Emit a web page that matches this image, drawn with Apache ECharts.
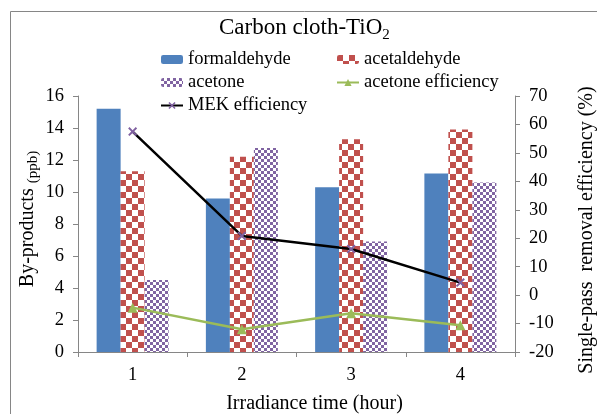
<!DOCTYPE html>
<html>
<head>
<meta charset="utf-8">
<script src="https://cdn.jsdelivr.net/npm/echarts@6/dist/echarts.min.js"></script>
<style>
html,body{margin:0;padding:0;background:#fff;}
#chart{width:597px;height:414px;}
</style>
</head>
<body>
<div id="chart"></div>
<script>
// ---- data ----
const categories = ['1', '2', '3', '4'];
const formaldehyde = [15.2, 9.6, 10.3, 11.15];
const acetaldehyde = [11.3, 12.2, 13.3, 13.9];
const acetone = [4.5, 12.75, 6.9, 10.6];
const acetoneEfficiency = [-4.4, -12.0, -6.4, -10.6];
const mekEfficiency = [57.5, 20.8, 16.2, 4.4];
const leftTicks = { min: 0, max: 16, interval: 2 };
const rightTicks = { min: -20, max: 70, interval: 10 };

// ---- patterns ----
function checker(size, fg, bg) {
  const cv = document.createElement('canvas');
  cv.width = cv.height = size * 2;
  const ctx = cv.getContext('2d');
  ctx.fillStyle = bg; ctx.fillRect(0, 0, size * 2, size * 2);
  ctx.fillStyle = fg;
  ctx.fillRect(0, 0, size, size);
  ctx.fillRect(size, size, size, size);
  return cv;
}
const redChecker = { image: checker(6, '#C0504D', '#FFFFFF'), repeat: 'repeat' };
const purpleChecker = { image: checker(3, '#8064A2', '#FFFFFF'), repeat: 'repeat' };

const FONT = 'Liberation Serif';
const AX = '#868686';
const xMark = 'path://M0,1.5L1.5,0L5,3.5L8.5,0L10,1.5L6.5,5L10,8.5L8.5,10L5,6.5L1.5,10L0,8.5L3.5,5Z';
const txt = (size) => ({ fontFamily: FONT, fontSize: size, fontWeight: 'normal', color: '#000' });

const chart = echarts.init(document.getElementById('chart'), null, { renderer: 'canvas' });
chart.setOption({
  animation: false,
  backgroundColor: '#fff',
  textStyle: { fontFamily: FONT, color: '#000' },
  graphic: [{
    type: 'rect', z: -10,
    shape: { x: 10.5, y: 11.5, width: 700, height: 500 },
    style: { fill: 'none', stroke: AX, lineWidth: 1 }
  }],
  title: {
    text: '{a|Carbon cloth-TiO}{b|2}',
    left: 219, top: 15, padding: 0,
    textStyle: {
      fontFamily: FONT, fontWeight: 'normal',
      rich: {
        a: Object.assign(txt(23), { verticalAlign: 'bottom', lineHeight: 24 }),
        b: Object.assign(txt(15), { verticalAlign: 'bottom', lineHeight: 24, padding: [0, 0, -4, 0] })
      }
    }
  },
  legend: [{
    orient: 'vertical', left: 160, top: 50, padding: 0,
    itemWidth: 22, itemHeight: 9, itemGap: 4,
    textStyle: txt(18.5),
    data: ['formaldehyde', 'acetone', 'MEK efficiency']
  }, {
    orient: 'vertical', left: 336, top: 50, padding: 0,
    itemWidth: 22, itemHeight: 9, itemGap: 4,
    textStyle: txt(18.5),
    data: ['acetaldehyde', 'acetone efficiency']
  }],
  grid: { left: 78, right: 82, top: 96, bottom: 62, containLabel: false, outerBoundsMode: 'none' },
  xAxis: {
    type: 'category', data: categories, boundaryGap: true,
    name: 'Irradiance time (hour)', nameLocation: 'middle', nameGap: 42,
    nameTextStyle: Object.assign(txt(20), { padding: [0, 0, 0, 36] }),
    axisLine: { lineStyle: { color: AX, width: 1 } },
    axisTick: { show: true, length: 5, alignWithLabel: false, lineStyle: { color: AX } },
    axisLabel: Object.assign(txt(18.5), { margin: 14 }),
    splitLine: { show: false }
  },
  yAxis: [{
    type: 'value', position: 'left',
    min: leftTicks.min, max: leftTicks.max, interval: leftTicks.interval,
    name: '{a|By-products }{b|(ppb)}', nameLocation: 'middle', nameRotate: 90, nameGap: 40,
    nameMoveOverlap: false,
    nameTextStyle: {
      fontFamily: FONT,
      padding: [0, 0, 0, 10],
      rich: {
        a: Object.assign(txt(20), { lineHeight: 22, verticalAlign: 'bottom' }),
        b: Object.assign(txt(15), { lineHeight: 22, verticalAlign: 'bottom', padding: [0, 0, -3, 0] })
      }
    },
    axisLine: { show: true, lineStyle: { color: AX, width: 1 } },
    axisTick: { show: true, length: 5, lineStyle: { color: AX } },
    axisLabel: Object.assign(txt(18.5), { margin: 14 }),
    splitLine: { show: false }
  }, {
    type: 'value', position: 'right',
    min: rightTicks.min, max: rightTicks.max, interval: rightTicks.interval,
    name: 'Single-pass  removal efficiency (%)', nameLocation: 'middle', nameRotate: 90, nameGap: 62,
    nameTextStyle: Object.assign(txt(20), { padding: [0, 12, 0, 0] }),
    axisLine: { show: true, lineStyle: { color: AX, width: 1 } },
    axisTick: { show: true, length: 5, lineStyle: { color: AX } },
    axisLabel: Object.assign(txt(18.5), { margin: 14 }),
    splitLine: { show: false }
  }],
  series: [{
    name: 'formaldehyde', type: 'bar', yAxisIndex: 0, data: formaldehyde,
    barWidth: 24, barGap: '0%',
    itemStyle: { color: '#4F81BD' }
  }, {
    name: 'acetaldehyde', type: 'bar', yAxisIndex: 0, data: acetaldehyde,
    barWidth: 24, barGap: '0%',
    itemStyle: { color: redChecker }
  }, {
    name: 'acetone', type: 'bar', yAxisIndex: 0, data: acetone,
    barWidth: 24, barGap: '0%',
    itemStyle: { color: purpleChecker }
  }, {
    name: 'acetone efficiency', type: 'line', yAxisIndex: 1, data: acetoneEfficiency,
    z: 5, symbol: 'triangle', symbolSize: 10,
    lineStyle: { color: '#9BBB59', width: 2.5 },
    itemStyle: { color: '#9BBB59' }
  }, {
    name: 'MEK efficiency', type: 'line', yAxisIndex: 1, data: mekEfficiency,
    z: 6, symbol: xMark, symbolSize: 9,
    lineStyle: { color: '#000000', width: 2.5 },
    itemStyle: { color: '#7F60A0' }
  }]
});
</script>
</body>
</html>
